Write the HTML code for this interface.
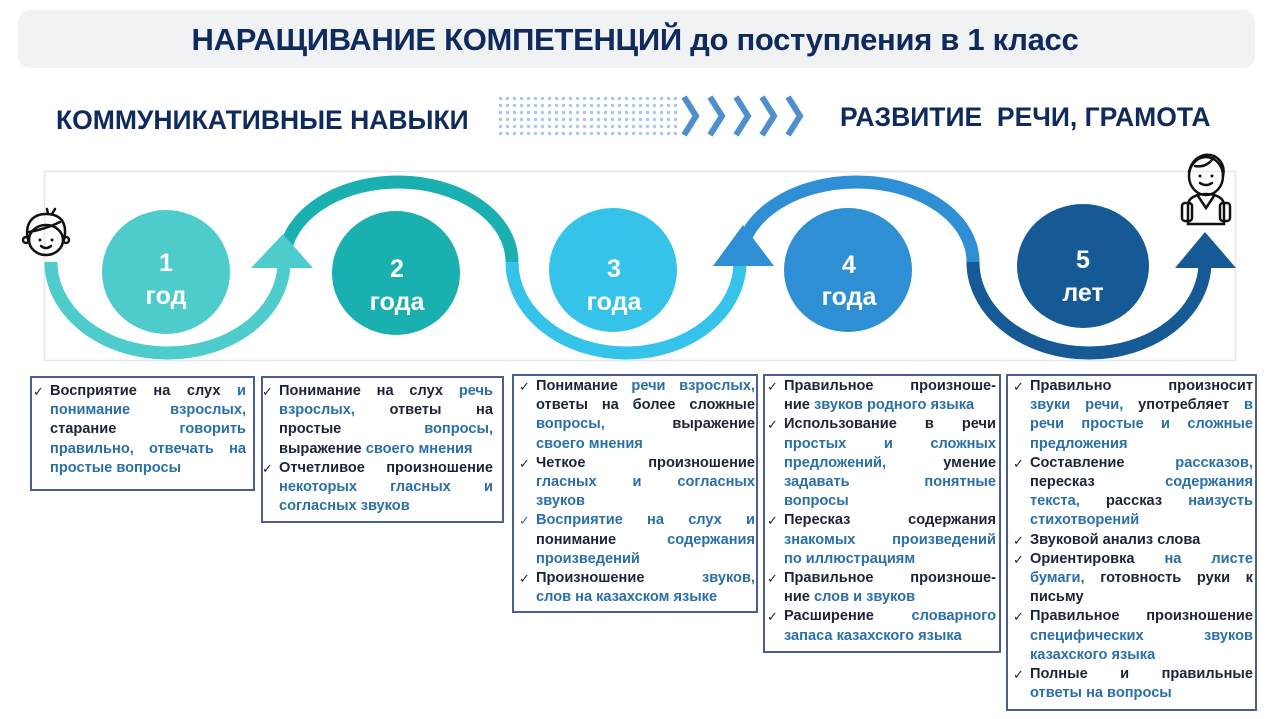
<!DOCTYPE html>
<html><head><meta charset="utf-8">
<style>
*{margin:0;padding:0;box-sizing:border-box}
body{width:1280px;height:719px;background:#fff;position:relative;overflow:hidden;font-family:"Liberation Sans",sans-serif}
.banner{position:absolute;left:18px;top:10px;width:1237px;height:58px;background:#f1f2f4;border-radius:12px}
.title{position:absolute;left:0;top:22px;width:1270px;text-align:center;font-weight:bold;font-size:31px;color:#0f2a5c;letter-spacing:-0.3px}
.sub{position:absolute;font-weight:bold;font-size:26.5px;color:#0f2a5c;white-space:nowrap}
.box{position:absolute;border:2px solid #4a5f8f;background:#fff;font-weight:bold;font-size:14.6px;line-height:19.2px;color:#1b2537}
.box div{position:relative;white-space:normal}
.box .j{text-align:justify;text-align-last:justify}
.box .c:before{content:"✓";position:absolute;left:-17px;top:0;color:#1b2537;font-size:13px;font-weight:normal}
.box .cb:before{color:#2a6fa8}
.b{color:#2a6fa8}
</style></head><body>
<div class="banner"></div>
<div class="title">НАРАЩИВАНИЕ КОМПЕТЕНЦИЙ до поступления в 1 класс</div>
<div class="sub" style="left:56px;top:105px">КОММУНИКАТИВНЫЕ НАВЫКИ</div>
<div class="sub" style="left:840px;top:102px">РАЗВИТИЕ&nbsp; РЕЧИ, ГРАМОТА</div>

<svg width="1280" height="719" style="position:absolute;left:0;top:0" xmlns="http://www.w3.org/2000/svg">
<defs><pattern id="dots" x="498" y="96" width="7" height="7" patternUnits="userSpaceOnUse"><circle cx="2.5" cy="2.5" r="1.7" fill="#a9c8ec"/></pattern></defs>
<rect x="498" y="95" width="182" height="43" fill="url(#dots)"/>
<g fill="none" stroke="#4f8fd0" stroke-width="6" stroke-linejoin="miter">
<polyline points="684,97 696,116 684,135"/>
<polyline points="710,97 722,116 710,135"/>
<polyline points="736,97 748,116 736,135"/>
<polyline points="762,97 774,116 762,135"/>
<polyline points="788,97 800,116 788,135"/>
</g>
<rect x="44.5" y="171.5" width="1191" height="189" fill="none" stroke="#e4e7ee" stroke-width="1.5"/>
<g fill="none" stroke-width="13">
<path d="M51,262 A116.5,91 0 0 0 284,262" stroke="#4ecbcb"/>
<path d="M284,262 A114,80 0 0 1 512,262" stroke="#1aafb0"/>
<path d="M512,262 A114,91 0 0 0 740,262" stroke="#35c3ea"/>
<path d="M740,262 A116.5,80 0 0 1 973,262" stroke="#2e8fd4"/>
<path d="M973,262 A116,91 0 0 0 1205,262" stroke="#155a94"/>
</g>
<polygon points="251,268 313,268 283,234" fill="#4ecbcb"/>
<polygon points="713,266 774,266 743,225" fill="#2e8fd4"/>
<polygon points="1175,268 1236,268 1205,232" fill="#155a94"/>
<ellipse cx="166" cy="272" rx="64" ry="62" fill="#4ecbcb"/>
<ellipse cx="396" cy="273" rx="64" ry="62" fill="#1ab0b0"/>
<ellipse cx="613" cy="270" rx="64" ry="62" fill="#35c3ea"/>
<ellipse cx="848" cy="270" rx="64" ry="62" fill="#2e8fd4"/>
<ellipse cx="1083" cy="266" rx="66" ry="62" fill="#155a94"/>
<g fill="#fff" font-family="Liberation Sans, sans-serif" font-weight="bold" font-size="25" text-anchor="middle">
<text x="166" y="271">1</text><text x="166" y="304">год</text>
<text x="397" y="277">2</text><text x="397" y="310">года</text>
<text x="614" y="277">3</text><text x="614" y="310">года</text>
<text x="849" y="273">4</text><text x="849" y="305">года</text>
<text x="1083" y="268">5</text><text x="1083" y="301">лет</text>
</g>
<g fill="none" stroke="#111" stroke-width="2.5" stroke-linecap="round">
<path d="M28,240 C24,222 34,214 46,214 C60,214 68,222 64,240"/>
<ellipse cx="46" cy="240" rx="17" ry="15"/>
<path d="M29,232 C40,230 52,226 60,222"/>
<path d="M52,214 L55,209 M48,214 L47,209"/>
<circle cx="26" cy="240" r="3"/><circle cx="66" cy="240" r="3"/>
<path d="M41,246 Q46,250 51,246"/>
</g>
<circle cx="40" cy="240" r="1.5" fill="#111"/><circle cx="52" cy="240" r="1.5" fill="#111"/>
<g fill="none" stroke="#111" stroke-width="2.5" stroke-linecap="round">
<ellipse cx="1206" cy="176" rx="17" ry="19"/>
<path d="M1189,172 C1192,158 1204,152 1214,156 C1222,160 1225,168 1223,176"/>
<path d="M1195,166 C1204,168 1212,162 1214,156"/>
<path d="M1200,183 Q1206,187 1212,183"/>
<path d="M1188,224 L1188,205 C1188,198 1196,194 1206,194 C1216,194 1224,198 1224,205 L1224,224 Z"/>
<rect x="1182" y="203" width="10" height="18" rx="3"/>
<rect x="1220" y="203" width="10" height="18" rx="3"/>
<path d="M1198,196 L1206,208 L1214,196"/>
</g>
<circle cx="1200" cy="176" r="1.5" fill="#111"/><circle cx="1212" cy="176" r="1.5" fill="#111"/>
</svg>

<div class="box" style="left:30px;top:376px;width:225px;height:115px;padding:4px 7px 0 18px">
<div class="j c">Восприятие на слух <span class="b">и</span></div>
<div class="j b">понимание взрослых,</div>
<div class="j">старание <span class="b">говорить</span></div>
<div class="j b">правильно, отвечать на</div>
<div class="b">простые вопросы</div>
</div>

<div class="box" style="left:261px;top:376px;width:243px;height:147px;padding:4px 9px 0 16px">
<div class="j c">Понимание на слух <span class="b">речь</span></div>
<div class="j"><span class="b">взрослых,</span> ответы на</div>
<div class="j">простые <span class="b">вопросы,</span></div>
<div>выражение <span class="b">своего мнения</span></div>
<div class="j c">Отчетливое произношение</div>
<div class="j b">некоторых гласных и</div>
<div class="b">согласных звуков</div>
</div>

<div class="box" style="left:512px;top:374px;width:246px;height:239px;padding:1px 1px 0 22px">
<div class="j c">Понимание <span class="b">речи взрослых,</span></div>
<div class="j">ответы на более сложные</div>
<div class="j"><span class="b">вопросы,</span> выражение</div>
<div class="b">своего мнения</div>
<div class="j c">Четкое произношение</div>
<div class="j b">гласных и согласных</div>
<div class="b">звуков</div>
<div class="j c cb b">Восприятие на слух и</div>
<div class="j">понимание <span class="b">содержания</span></div>
<div class="b">произведений</div>
<div class="j c">Произношение <span class="b">звуков,</span></div>
<div class="b">слов на казахском языке</div>
</div>

<div class="box" style="left:763px;top:374px;width:238px;height:279px;padding:1px 3px 0 19px">
<div class="j c">Правильное произноше-</div>
<div>ние <span class="b">звуков родного языка</span></div>
<div class="j c">Использование в речи</div>
<div class="j b">простых и сложных</div>
<div class="j"><span class="b">предложений,</span> умение</div>
<div class="j b">задавать понятные</div>
<div class="b">вопросы</div>
<div class="j c">Пересказ содержания</div>
<div class="j b">знакомых произведений</div>
<div class="b">по иллюстрациям</div>
<div class="j c">Правильное произноше-</div>
<div>ние <span class="b">слов и звуков</span></div>
<div class="j c">Расширение <span class="b">словарного</span></div>
<div class="b">запаса казахского языка</div>
</div>

<div class="box" style="left:1006px;top:374px;width:251px;height:337px;padding:1px 2px 0 22px">
<div class="j c">Правильно произносит</div>
<div class="j"><span class="b">звуки речи,</span> употребляет <span class="b">в</span></div>
<div class="j b">речи простые и сложные</div>
<div class="b">предложения</div>
<div class="j c">Составление <span class="b">рассказов,</span></div>
<div class="j">пересказ <span class="b">содержания</span></div>
<div class="j"><span class="b">текста,</span> рассказ <span class="b">наизусть</span></div>
<div class="b">стихотворений</div>
<div class="c">Звуковой анализ слова</div>
<div class="j c">Ориентировка <span class="b">на листе</span></div>
<div class="j"><span class="b">бумаги,</span> готовность руки к</div>
<div>письму</div>
<div class="j c">Правильное произношение</div>
<div class="j b">специфических звуков</div>
<div class="b">казахского языка</div>
<div class="j c">Полные и правильные</div>
<div class="b">ответы на вопросы</div>
</div>
</body></html>
